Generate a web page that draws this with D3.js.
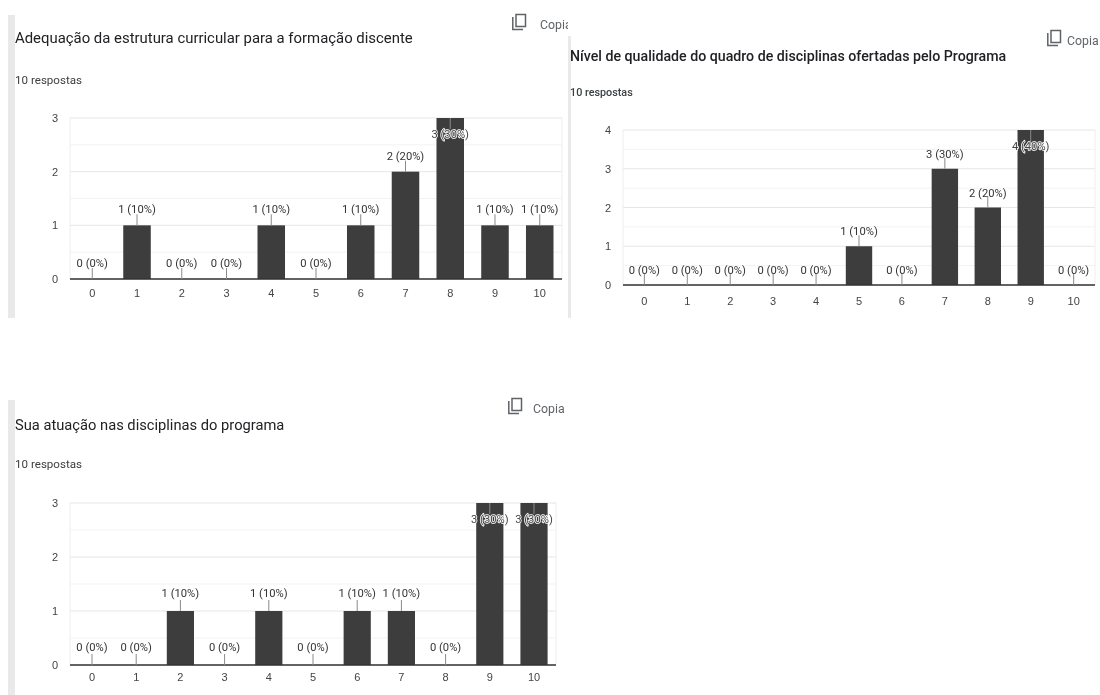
<!doctype html>
<html lang="pt-BR">
<head>
<meta charset="utf-8">
<title>Respostas</title>
<script src="https://cdn.jsdelivr.net/npm/d3@7"></script>
<style>
  html, body { margin: 0; background: #fff; }
  svg { display: block; font-family: Roboto, "Liberation Sans", sans-serif; filter: blur(0.4px); }
  .title { fill: #202124; }
  .sub { fill: #3c4043; }
  .copy { fill: #5f6368; font-size: 12.3px; }
  .axis text { fill: #444; font-size: 11px; }
  .axis path, .axis line { display: none; }
  .label { fill: #333; font-size: 11.2px; text-anchor: middle; }
  .label.inside { paint-order: stroke; stroke: #fff; stroke-width: 1.6px; fill: #444; }
</style>
</head>
<body>
<svg id="chart" width="1100" height="695"></svg>
<script>
  var categories = ["0", "1", "2", "3", "4", "5", "6", "7", "8", "9", "10"];

  var titleA = "Adequação da estrutura curricular para a formação discente";
  var valuesA = [0, 1, 0, 0, 1, 0, 1, 2, 3, 1, 1];
  var ticksA = [0, 1, 2, 3];

  var titleB = "Nível de qualidade do quadro de disciplinas ofertadas pelo Programa";
  var valuesB = [0, 0, 0, 0, 0, 1, 0, 3, 2, 4, 0];
  var ticksB = [0, 1, 2, 3, 4];

  var titleC = "Sua atuação nas disciplinas do programa";
  var valuesC = [0, 0, 1, 0, 1, 0, 1, 1, 0, 3, 3];
  var ticksC = [0, 1, 2, 3];

  var responses = 10;
  var subtitle = responses + " respostas";

  var svg = d3.select("#chart");

  // Side strips of the form cards
  svg.append("rect").attr("x", 8).attr("y", 15).attr("width", 7).attr("height", 303).attr("fill", "#e9e9e9");
  svg.append("rect").attr("x", 568).attr("y", 36).attr("width", 3).attr("height", 282).attr("fill", "#e9e9e9");
  svg.append("rect").attr("x", 8).attr("y", 400).attr("width", 7).attr("height", 295).attr("fill", "#e9e9e9");

  function drawCard(o) {
    var g = svg.append("g");

    g.append("text").attr("class", "title")
      .attr("x", o.textX).attr("y", o.titleY)
      .attr("font-size", o.titleSize).attr("font-weight", o.titleWeight)
      .text(o.title);
    g.append("text").attr("class", "sub")
      .attr("x", o.textX).attr("y", o.subY)
      .attr("font-size", o.subSize).attr("font-weight", o.titleWeight)
      .text(subtitle);

    // Copy button, cut off at the edge of the screenshot
    var clipId = "clip" + o.id;
    svg.append("clipPath").attr("id", clipId).append("rect")
      .attr("x", o.copyX).attr("y", o.copyY - 20).attr("width", o.copyW).attr("height", 30);
    g.append("text").attr("class", "copy").attr("clip-path", "url(#" + clipId + ")")
      .attr("x", o.copyX).attr("y", o.copyY).text("Copia");
    var icon = g.append("g").attr("transform", "translate(" + o.iconX + "," + (o.copyY - 15) + ")")
      .attr("fill", "none").attr("stroke", "#5f6368").attr("stroke-width", 1.5);
    icon.append("rect").attr("x", 4).attr("y", 0.5).attr("width", 9.5).attr("height", 12);
    icon.append("path").attr("d", "M0.8,3 V15.5 H11");

    var x = d3.scaleBand().domain(categories).range([o.left, o.right]).paddingInner(0.385).paddingOuter(0.19);
    var yMax = d3.max(o.ticks);
    var y = d3.scaleLinear().domain([0, yMax]).range([o.bottom, o.top]);

    // Minor and major grid
    var minor = d3.range(0.5, yMax, 1);
    g.selectAll(".minor").data(minor).enter().append("line")
      .attr("x1", o.left).attr("x2", o.right)
      .attr("y1", function (d) { return y(d); })
      .attr("y2", function (d) { return y(d); })
      .attr("stroke", "#f3f3f3");
    g.selectAll(".major").data(o.ticks).enter().append("line")
      .attr("x1", o.left).attr("x2", o.right)
      .attr("y1", function (d) { return y(d); })
      .attr("y2", function (d) { return y(d); })
      .attr("stroke", "#e6e6e6");
    g.append("line").attr("x1", o.left).attr("x2", o.left)
      .attr("y1", o.top).attr("y2", o.bottom).attr("stroke", "#eeeeee");
    g.append("line").attr("x1", o.right).attr("x2", o.right)
      .attr("y1", o.top).attr("y2", o.bottom).attr("stroke", "#eeeeee");

    var rows = o.values.map(function (v, i) { return { cat: categories[i], v: v }; });

    g.selectAll(".bar").data(rows).enter().append("rect")
      .attr("class", "bar")
      .attr("x", function (d) { return x(d.cat); })
      .attr("y", function (d) { return y(d.v); })
      .attr("width", x.bandwidth())
      .attr("height", function (d) { return o.bottom - y(d.v); })
      .attr("fill", "#3d3d3d");

    g.append("line").attr("x1", o.left).attr("x2", o.right)
      .attr("y1", o.bottom).attr("y2", o.bottom)
      .attr("stroke", "#333").attr("stroke-width", 1.3);

    // Annotation stems and labels; they flip inside when there is no room above
    var stem = 11;
    g.selectAll(".stem").data(rows).enter().append("line")
      .attr("x1", function (d) { return x(d.cat) + x.bandwidth() / 2; })
      .attr("x2", function (d) { return x(d.cat) + x.bandwidth() / 2; })
      .attr("y1", function (d) { return y(d.v); })
      .attr("y2", function (d) { return d.v === yMax ? y(d.v) + stem : y(d.v) - stem; })
      .attr("stroke", "#8a8a8a");
    g.selectAll(".label").data(rows).enter().append("text")
      .attr("class", function (d) { return d.v === yMax ? "label inside" : "label"; })
      .attr("x", function (d) { return x(d.cat) + x.bandwidth() / 2; })
      .attr("y", function (d) { return d.v === yMax ? y(d.v) + stem + 9 : y(d.v) - stem - 3 + o.labelShift; })
      .text(function (d) { return d.v + " (" + Math.round(d.v / responses * 100) + "%)"; });

    var xAxis = d3.axisBottom(x).tickSize(0).tickPadding(o.xPad);
    g.append("g").attr("class", "axis")
      .attr("transform", "translate(0," + o.bottom + ")").call(xAxis);
    var yAxis = d3.axisLeft(y).tickValues(o.ticks).tickFormat(d3.format("d")).tickSize(0).tickPadding(o.yPad);
    g.append("g").attr("class", "axis")
      .attr("transform", "translate(" + o.left + ",0)").call(yAxis);
  }

  drawCard({
    id: "A", title: titleA, values: valuesA, ticks: ticksA,
    textX: 15, titleY: 43, titleSize: 14.9, titleWeight: 400, subY: 84, subSize: 11.6,
    copyX: 540, copyY: 29, copyW: 28, iconX: 512,
    left: 70, right: 562, top: 118, bottom: 279, yPad: 12, xPad: 10, labelShift: 2
  });
  drawCard({
    id: "B", title: titleB, values: valuesB, ticks: ticksB,
    textX: 570, titleY: 61, titleSize: 14.2, titleWeight: 500, subY: 96, subSize: 10.8,
    copyX: 1067, copyY: 45, copyW: 33, iconX: 1047,
    left: 623, right: 1095, top: 130, bottom: 285, yPad: 12, xPad: 12, labelShift: 3
  });
  drawCard({
    id: "C", title: titleC, values: valuesC, ticks: ticksC,
    textX: 15, titleY: 430, titleSize: 14.7, titleWeight: 400, subY: 468, subSize: 11.6,
    copyX: 533, copyY: 413, copyW: 34, iconX: 508,
    left: 70, right: 556, top: 503, bottom: 665, yPad: 12, xPad: 8, labelShift: 0
  });
</script>
</body>
</html>
